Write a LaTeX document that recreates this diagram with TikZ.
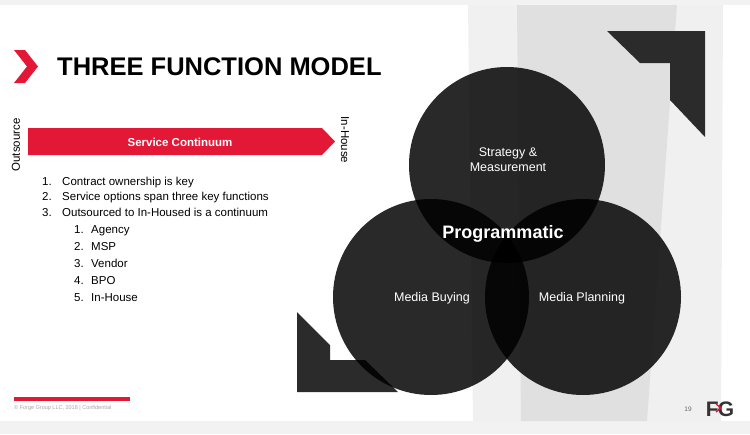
\documentclass[tikz,border=0pt]{standalone}
\usepackage{fontspec}
\setmainfont{Liberation Sans}
\definecolor{fgred}{HTML}{E31837}
\definecolor{dk}{HTML}{2B2B2B}
\begin{document}
\begin{tikzpicture}[x=1pt,y=-1pt,
  lbl/.style={text=white,font=\fontsize{12.5}{15}\selectfont,align=center},
  item/.style={anchor=base west,font=\fontsize{11.5}{13}\selectfont,inner sep=0}]
\useasboundingbox (0,0) rectangle (750,434);
\fill[white] (0,0) rectangle (750,434);
\fill[black!5] (0,0) rectangle (750,5);
\fill[black!5] (0,421) rectangle (750,434);
% background bands
\fill[black!6] (468,5) -- (723,5) -- (721,421) -- (473,421) -- cycle;
\fill[black!12] (517,5) -- (677,5) -- (647,421) -- (521,421) -- cycle;
% chevron corners
\fill[dk] (607,31) -- (705,31) -- (705,137) -- (670,100) -- (670,63) -- (640,63) -- cycle;
\fill[dk] (297,312) -- (330,345) -- (330,360) -- (365,360) -- (398,392) -- (297,392) -- cycle;
% circles
\fill[black,fill opacity=0.84] (507,165) circle (98);
\fill[black,fill opacity=0.84] (431,297) circle (98);
\fill[black,fill opacity=0.84] (583,297) circle (98);
\node[lbl] (sm) at (508,160) {Strategy \&\\Measurement};
\node[lbl] (mb) at (432,298) {Media Buying};
\node[lbl] (mp) at (582,298) {Media Planning};
\node[text=white,font=\fontsize{18}{20}\selectfont\bfseries] (pg) at (503,234) {Programmatic};
% title
\fill[fgred] (14,50) -- (25,50) -- (38,66.5) -- (25,83) -- (14,83) -- (27,66.5) -- cycle;
\node[anchor=west,font=\fontsize{25.5}{28}\selectfont\bfseries,inner sep=0] (title) at (57,67) {THREE FUNCTION MODEL};
% arrow
\fill[fgred] (28,128) -- (322,128) -- (335,141.5) -- (322,155) -- (28,155) -- cycle;
\node[text=white,font=\fontsize{11.5}{13}\selectfont\bfseries] (sc) at (180,142) {Service Continuum};
\node[rotate=90,font=\fontsize{11.5}{13}\selectfont] (out) at (16,145) {Outsource};
\node[rotate=-90,font=\fontsize{11.5}{13}\selectfont] (inh) at (345,140) {In-House};
% list
\foreach \n/\t/\y in {1/Contract ownership is key/185, 2/Service options span three key functions/200, 3/Outsourced to In-Housed is a continuum/216}{
  \node[item] (n\n) at (42,\y) {\n.};
  \node[item] (t\n) at (62,\y) {\t};}
\foreach \n/\t/\y in {1/Agency/233, 2/MSP/250, 3/Vendor/267, 4/BPO/284, 5/In-House/301}{
  \node[item] (s\n) at (74,\y) {\n.};
  \node[item] (u\n) at (91,\y) {\t};}
% footer
\fill[fgred] (14,397) rectangle (130,401);
\node[anchor=west,inner sep=0,text=black!35,font=\fontsize{5.5}{6}\selectfont] (copy) at (14,408) {© Forge Group LLC, 2018 | Confidential};
\node[text=black!60,font=\fontsize{6.5}{7}\selectfont] (pn) at (688,409) {19};
\node[font=\fontsize{21}{22}\selectfont\bfseries,text=black!80,inner sep=0] (logo) at (720,409) {F\hspace{-1pt}G};
\draw[fgred,line width=1.3pt] (716,404) -- (721,408) -- (716,412);
\end{tikzpicture}
\end{document}
